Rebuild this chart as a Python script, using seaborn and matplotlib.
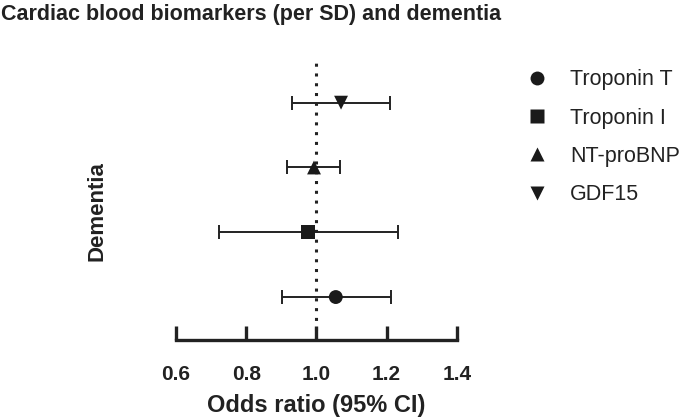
import pandas as pd
import seaborn as sns
import matplotlib.pyplot as plt

# values
markers_names = ["Troponin T", "Troponin I", "NT-proBNP", "GDF15"]
odds_ratio = [1.055, 0.977, 0.993, 1.070]
ci_low = [0.901, 0.722, 0.917, 0.929]
ci_high = [1.211, 1.232, 1.068, 1.209]
row = [1, 2, 3, 4]

df = pd.DataFrame({"marker": markers_names, "OR": odds_ratio,
                   "lo": ci_low, "hi": ci_high, "row": row})

sns.set_style("white")
plt.rcParams['font.family'] = ['Liberation Sans', 'DejaVu Sans']

f = plt.figure(figsize=(6.85, 4.19), dpi=100)
ax = f.add_axes([0.257, 0.189, 0.41, 0.668])

ax.axvline(1.0, color="#222222", ls=(0, (1, 2.2)), lw=2.2, zorder=1)

# CI whiskers
ax.errorbar(df["OR"], df["row"],
            xerr=[df["OR"] - df["lo"], df["hi"] - df["OR"]],
            fmt="none", ecolor="#222222", elinewidth=1.4, capsize=5,
            capthick=1.4, zorder=2)

mk = {"Troponin T": "o", "Troponin I": "s", "NT-proBNP": "^", "GDF15": "v"}
sns.scatterplot(data=df, x="OR", y="row", style="marker", markers=mk,
                style_order=markers_names, color="#1a1a1a", s=100,
                edgecolor="none", ax=ax, zorder=3, legend=True)

ax.set_xlim(0.6, 1.4)
ax.set_ylim(0.34, 4.66)
ax.set_xticks([0.6, 0.8, 1.0, 1.2, 1.4])
ax.set_xticklabels(["0.6", "0.8", "1.0", "1.2", "1.4"], fontweight="bold", fontsize=15)
ax.set_yticks([])
sns.despine(ax=ax, left=True)
ax.spines["bottom"].set_linewidth(2.4)
ax.spines["bottom"].set_color("#222222")
ax.tick_params(axis="x", bottom=True, direction="in", length=10, width=2.4,
               color="#222222", pad=18, labelcolor="#222222")

ax.set_xlabel("Odds ratio (95% CI)", fontweight="bold", fontsize=17, color="#222222",
              labelpad=7)
ax.set_ylabel("Dementia", fontweight="bold", fontsize=16, color="#222222")
ax.yaxis.set_label_coords(-0.245, 0.46)

h, l = ax.get_legend_handles_labels()
for hh in h:
    hh.set_markersize(10)
leg = ax.legend(h, l, loc="upper left", bbox_to_anchor=(1.195, 1.02), frameon=False,
                fontsize=15.5, labelspacing=0.8, handletextpad=1.0, handlelength=1.0,
                borderaxespad=0.3)
for t in leg.get_texts():
    t.set_color("#222222")

f.text(0.002, 0.99, "Cardiac blood biomarkers (per SD) and dementia",
       fontsize=15.5, fontweight="bold", color="#222222", va="top")

f.savefig("out.png", dpi=100)
